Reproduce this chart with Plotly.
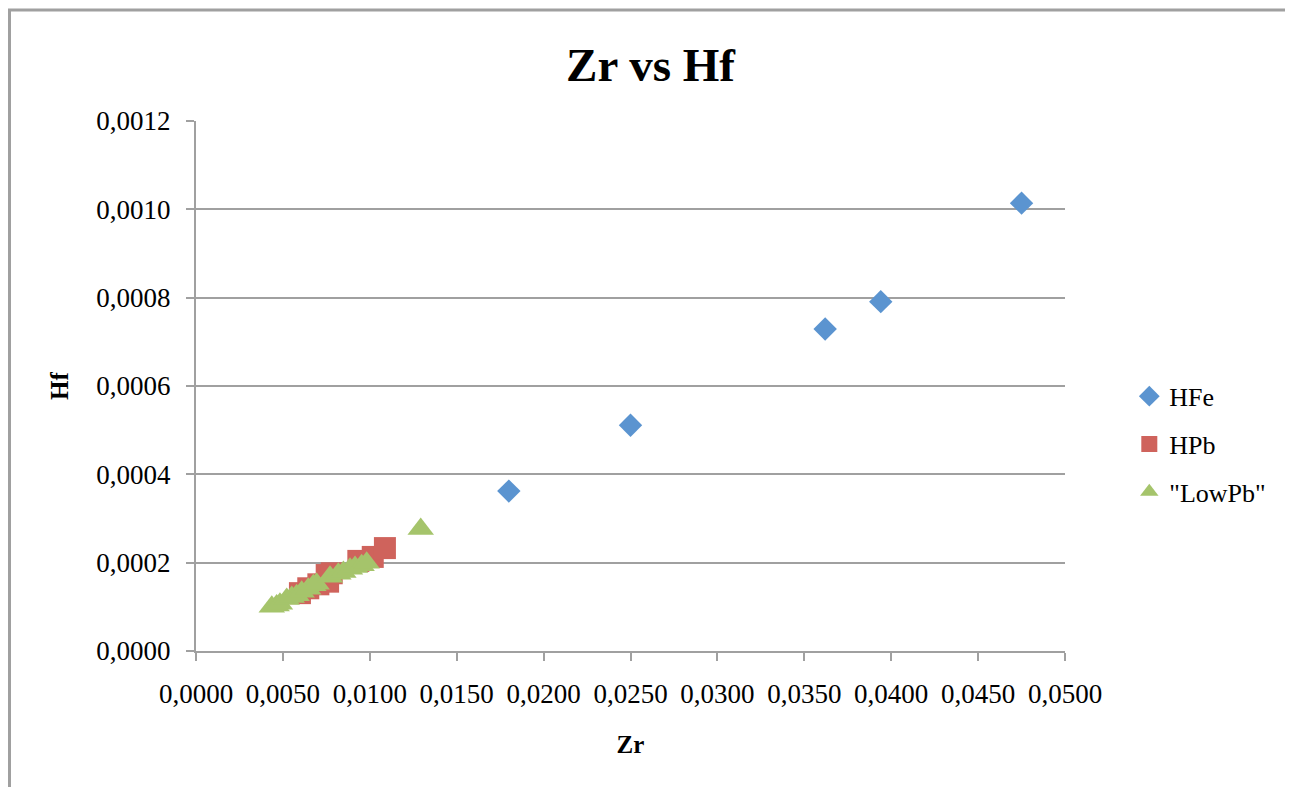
import plotly.graph_objects as go

# Data
hfe_zr = [0.0180, 0.0250, 0.0362, 0.0394, 0.0475]
hfe_hf = [0.000362, 0.000511, 0.000729, 0.000791, 0.001014]

hpb_zr = [0.00598, 0.00646, 0.00704, 0.00752, 0.00760, 0.00781, 0.00934, 0.01017, 0.01087]
hpb_hf = [0.000131, 0.000142, 0.000151, 0.000172, 0.000157, 0.000176, 0.000204, 0.000213, 0.000233]

lowpb_zr = [0.00436, 0.00464, 0.00483, 0.00522, 0.00551, 0.00579, 0.00608, 0.00646,
            0.00675, 0.00694, 0.00771, 0.00819, 0.00848, 0.00886, 0.00915, 0.00953,
            0.00982, 0.01293]
lowpb_hf = [0.000100, 0.000103, 0.000107, 0.000118, 0.000122, 0.000126, 0.000134, 0.000141,
            0.000149, 0.000152, 0.000168, 0.000175, 0.000179, 0.000186, 0.000190, 0.000194,
            0.000200, 0.000276]

series_names = ["HFe", "HPb", "\"LowPb\""]
colors = ["#5B94D0", "#CF635C", "#A5C46B"]

FONT = "Liberation Serif"

# page body has an 8px margin, so the figure is offset by 8px
W, H = 1285, 779
L, T = 188, 113
PW, PH = 869, 530
R, B = W - L - PW, H - T - PH

fig = go.Figure()
fig.add_trace(go.Scatter(x=hfe_zr, y=hfe_hf, mode="markers", name=series_names[0],
                         legendgroup="a",
                         marker=dict(symbol="diamond", size=18, color=colors[0])))
fig.add_trace(go.Scatter(x=hpb_zr, y=hpb_hf, mode="markers", name=series_names[1],
                         legendgroup="b",
                         marker=dict(symbol="square", size=22, color=colors[1])))
fig.add_trace(go.Scatter(x=lowpb_zr, y=lowpb_hf, mode="markers", name=series_names[2],
                         legendgroup="c",
                         marker=dict(symbol="triangle-up", size=23, color=colors[2])))

fig.update_layout(
    width=W, height=H,
    margin=dict(l=L, r=R, t=T, b=B, autoexpand=False),
    paper_bgcolor="white", plot_bgcolor="white",
    separators=",.",
    font=dict(family=FONT, color="black", size=27),
    title=dict(text="<b>Zr vs Hf</b>", x=0.5, xref="container", xanchor="center",
               y=(H - 57) / H, yref="container", yanchor="middle",
               font=dict(family=FONT, size=47, color="black")),
    xaxis=dict(range=[0, 0.05], dtick=0.005, tick0=0, tickformat=".4f",
               showgrid=False, zeroline=False,
               showline=True, linecolor="#A0A0A0", linewidth=2,
               ticks="outside", ticklen=8, tickwidth=2, tickcolor="#A0A0A0",
               ticklabelstandoff=10,
               tickfont=dict(family=FONT, size=27, color="black"),
               title=dict(text="<b>Zr</b>", standoff=27,
                          font=dict(family=FONT, size=25, color="black"))),
    yaxis=dict(range=[0, 0.0012], dtick=0.0002, tick0=0, tickformat=".4f",
               showgrid=True, gridcolor="#A0A0A0", gridwidth=2, zeroline=False,
               showline=True, linecolor="#A0A0A0", linewidth=2,
               ticks="outside", ticklen=8, tickwidth=2, tickcolor="#A0A0A0",
               ticklabelstandoff=10,
               tickfont=dict(family=FONT, size=27, color="black"),
               title=dict(text="<b>Hf</b>", standoff=21,
                          font=dict(family=FONT, size=25, color="black"))),
    legend=dict(x=1.074, xanchor="left", y=0.39, yanchor="middle",
                traceorder="grouped", tracegroupgap=11,
                font=dict(family=FONT, size=26, color="black"),
                bgcolor="rgba(0,0,0,0)", itemwidth=30),
    shapes=[dict(type="rect", xref="paper", yref="paper",
                 x0=(1.5 - L) / PW, x1=(1283 - L) / PW,
                 y0=-(B + 20) / PH, y1=(PH + T - 2) / PH,
                 line=dict(color="#A0A0A0", width=3), fillcolor="rgba(0,0,0,0)",
                 layer="below")],
)

fig.write_html("out.html")
